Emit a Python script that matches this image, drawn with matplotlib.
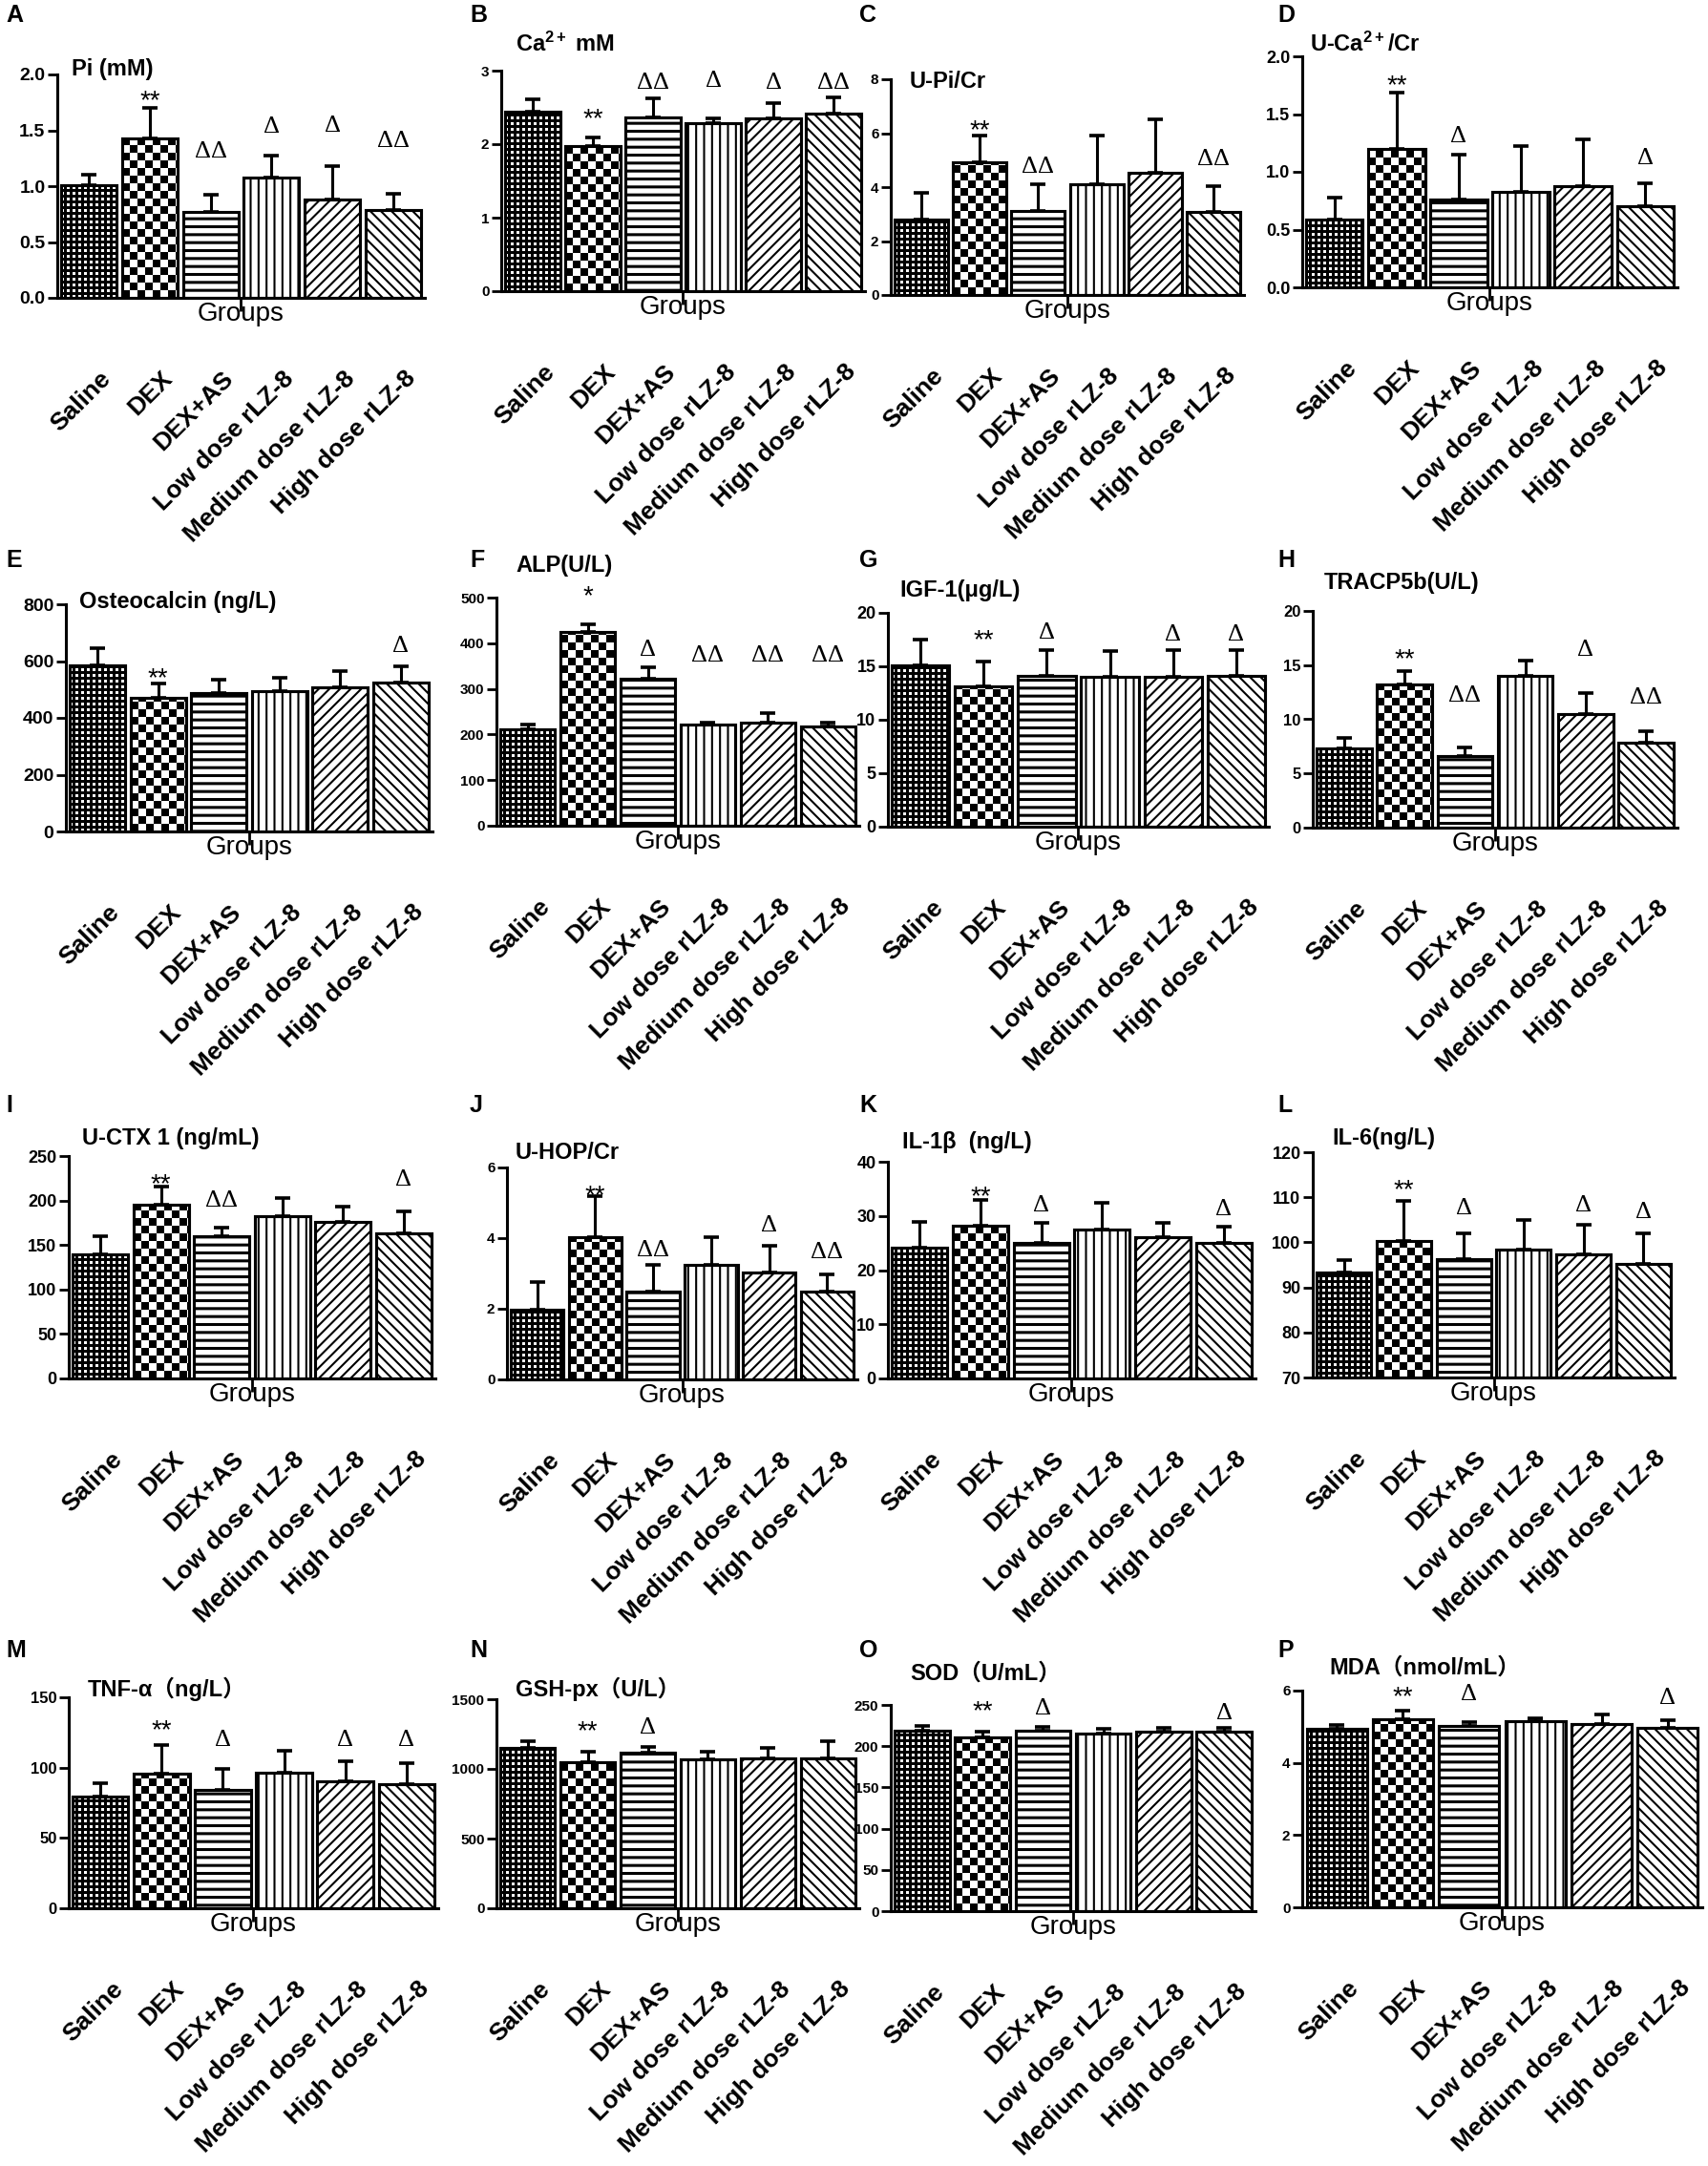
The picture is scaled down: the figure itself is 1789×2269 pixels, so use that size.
import numpy as np
import matplotlib
matplotlib.use("Agg")
import matplotlib.pyplot as plt

# ---------- Config ----------
W, H = 1790, 2269
DPI = 100
plt.rcParams["font.family"] = ["Liberation Sans", "DejaVu Sans"]
plt.rcParams["mathtext.fontset"] = "custom"
plt.rcParams["mathtext.rm"] = "Liberation Sans:bold"
plt.rcParams["mathtext.bf"] = "Liberation Sans:bold"
plt.rcParams["mathtext.default"] = "rm"
plt.rcParams["hatch.linewidth"] = 1.5

# ---------- Data ----------
groups = ["Saline", "DEX", "DEX+AS", "Low dose rLZ-8", "Medium dose rLZ-8", "High dose rLZ-8"]

pi_mean = [1.01, 1.43, 0.77, 1.075, 0.877, 0.785]
pi_sem = [0.09, 0.27, 0.155, 0.20, 0.30, 0.15]
pi_sig = ["", "**", "ΔΔ", "Δ", "Δ", "ΔΔ"]
pi_sig_at = [None, 1.83, 1.32, 1.54, 1.55, 1.415]

ca_mean = [2.44, 1.97, 2.36, 2.28, 2.35, 2.41]
ca_sem = [0.17, 0.12, 0.26, 0.07, 0.21, 0.22]
ca_sig = ["", "**", "ΔΔ", "Δ", "Δ", "ΔΔ"]
ca_sig_at = [None, 2.44, 2.85, 2.88, 2.85, 2.85]

upi_mean = [2.81, 4.92, 3.10, 4.11, 4.53, 3.08]
upi_sem = [0.96, 1.0, 1.0, 1.8, 1.98, 0.97]
upi_sig = ["", "**", "ΔΔ", "", "", "ΔΔ"]
upi_sig_at = [None, 6.36, 4.80, None, None, 5.09]

uca_mean = [0.59, 1.20, 0.76, 0.826, 0.88, 0.705]
uca_sem = [0.19, 0.49, 0.39, 0.40, 0.40, 0.195]
uca_sig = ["", "**", "Δ", "", "", "Δ"]
uca_sig_at = [None, 1.81, 1.32, None, None, 1.13]

ocn_mean = [585, 471, 487, 493, 507, 526]
ocn_sem = [59, 50, 49, 47, 58, 57]
ocn_sig = ["", "**", "", "", "", "Δ"]
ocn_sig_at = [None, 565, None, None, None, 658]

alp_mean = [212, 425, 323, 221, 225, 217]
alp_sem = [9, 17, 24, 5, 21, 8]
alp_sig = ["", "*", "Δ", "ΔΔ", "ΔΔ", "ΔΔ"]
alp_sig_at = [None, 519, 388, 376, 376, 376]

igf_mean = [15.06, 13.15, 14.1, 14.0, 14.0, 14.08]
igf_sem = [2.45, 2.33, 2.4, 2.4, 2.5, 2.4]
igf_sig = ["", "**", "Δ", "", "Δ", "Δ"]
igf_sig_at = [None, 18.1, 18.25, None, 18.1, 18.1]

tracp_mean = [7.34, 13.23, 6.61, 14.0, 10.46, 7.87]
tracp_sem = [0.91, 1.2, 0.79, 1.43, 1.92, 1.0]
tracp_sig = ["", "**", "ΔΔ", "", "Δ", "ΔΔ"]
tracp_sig_at = [None, 16.2, 12.3, None, 16.5, 12.1]

ctx_mean = [139, 195, 160, 182, 176, 163]
ctx_sem = [21, 21, 10, 21, 17, 25]
ctx_sig = ["", "**", "ΔΔ", "", "", "Δ"]
ctx_sig_at = [None, 227, 201, None, None, 225]

hop_mean = [1.96, 4.02, 2.48, 3.25, 3.02, 2.49]
hop_sem = [0.79, 1.17, 0.75, 0.78, 0.77, 0.49]
hop_sig = ["", "**", "ΔΔ", "", "Δ", "ΔΔ"]
hop_sig_at = [None, 5.42, 3.69, None, 4.38, 3.63]

il1b_mean = [24.1, 28.2, 25.1, 27.5, 26.0, 25.1]
il1b_sem = [4.8, 4.7, 3.7, 5.0, 2.8, 2.9]
il1b_sig = ["", "**", "Δ", "", "", "Δ"]
il1b_sig_at = [None, 35.0, 32.1, None, None, 31.5]

il6_mean = [93.2, 100.3, 96.3, 98.4, 97.3, 95.3]
il6_sem = [2.9, 8.9, 5.7, 6.6, 6.7, 6.7]
il6_sig = ["", "**", "Δ", "", "Δ", "Δ"]
il6_sig_at = [None, 113.2, 107.7, None, 108.4, 106.9]

tnf_mean = [79.2, 95.9, 84.3, 96.6, 90.2, 88.0]
tnf_sem = [10, 20, 14.8, 15.3, 14.3, 15.3]
tnf_sig = ["", "**", "Δ", "", "Δ", "Δ"]
tnf_sig_at = [None, 131.5, 120.5, None, 120.5, 120.5]

gsh_mean = [1148, 1046, 1116, 1066, 1074, 1074]
gsh_sem = [50, 77, 44, 57, 74, 124]
gsh_sig = ["", "**", "Δ", "", "", ""]
gsh_sig_at = [None, 1322, 1307, None, None, None]

sod_mean = [218.5, 210.1, 218.5, 215.1, 217.2, 217.2]
sod_sem = [6.3, 8.0, 5.0, 5.5, 5.1, 5.5]
sod_sig = ["", "**", "Δ", "", "", "Δ"]
sod_sig_at = [None, 250.8, 247.5, None, None, 241.6]

mda_mean = [4.93, 5.20, 5.01, 5.15, 5.08, 4.96]
mda_sem = [0.11, 0.24, 0.12, 0.09, 0.27, 0.22]
mda_sig = ["", "**", "Δ", "", "", "Δ"]
mda_sig_at = [None, 6.02, 5.92, None, None, 5.83]

# y ticks per panel
ticks_pi = [0.0, 0.5, 1.0, 1.5, 2.0]
ticks_ca = [0, 1, 2, 3]
ticks_upi = [0, 2, 4, 6, 8]
ticks_uca = [0.0, 0.5, 1.0, 1.5, 2.0]
ticks_ocn = [0, 200, 400, 600, 800]
ticks_alp = [0, 100, 200, 300, 400, 500]
ticks_igf = [0, 5, 10, 15, 20]
ticks_tracp = [0, 5, 10, 15, 20]
ticks_ctx = [0, 50, 100, 150, 200, 250]
ticks_hop = [0, 2, 4, 6]
ticks_il1b = [0, 10, 20, 30, 40]
ticks_il6 = [70, 80, 90, 100, 110, 120]
ticks_tnf = [0, 50, 100, 150]
ticks_gsh = [0, 500, 1000, 1500]
ticks_sod = [0, 50, 100, 150, 200, 250]
ticks_mda = [0, 2, 4, 6]

# (letter, title, mean, sem, sig, sig_at, ticks, tick fmt, tick size,
#  axes box in px (left, top, right, bottom), title anchor px (x, y))
PANELS = [
    ("A", "Pi (mM)", pi_mean, pi_sem, pi_sig, pi_sig_at, ticks_pi, "{:.1f}", 14, (60, 78, 445, 312), (75, 73)),
    ("B", "Ca$^{2+}$ mM", ca_mean, ca_sem, ca_sig, ca_sig_at, ticks_ca, "{:d}", 11, (525, 74, 906, 305), (540, 46)),
    ("C", "U-Pi/Cr", upi_mean, upi_sem, upi_sig, upi_sig_at, ticks_upi, "{:d}", 11, (933, 83, 1303, 309), (953, 86)),
    ("D", "U-Ca$^{2+}$/Cr", uca_mean, uca_sem, uca_sig, uca_sig_at, ticks_uca, "{:.1f}", 13, (1364, 59, 1757, 301), (1372, 46)),
    ("E", "Osteocalcin (ng/L)", ocn_mean, ocn_sem, ocn_sig, ocn_sig_at, ticks_ocn, "{:d}", 14, (69, 633, 453, 871), (83, 630)),
    ("F", "ALP(U/L)", alp_mean, alp_sem, alp_sig, alp_sig_at, ticks_alp, "{:d}", 11, (520, 626, 900, 865), (540, 592)),
    ("G", "IGF-1(μg/L)", igf_mean, igf_sem, igf_sig, igf_sig_at, ticks_igf, "{:d}", 13, (930, 642, 1329, 866), (942, 619)),
    ("H", "TRACP5b(U/L)", tracp_mean, tracp_sem, tracp_sig, tracp_sig_at, ticks_tracp, "{:d}", 12, (1375, 640, 1757, 867), (1387, 610)),
    ("I", "U-CTX 1 (ng/mL)", ctx_mean, ctx_sem, ctx_sig, ctx_sig_at, ticks_ctx, "{:d}", 13, (72, 1211, 456, 1444), (86, 1192)),
    ("J", "U-HOP/Cr", hop_mean, hop_sem, hop_sig, hop_sig_at, ticks_hop, "{:d}", 11, (531, 1223, 898, 1445), (540, 1208)),
    ("K", "IL-1β  (ng/L)", il1b_mean, il1b_sem, il1b_sig, il1b_sig_at, ticks_il1b, "{:d}", 13, (930, 1217, 1315, 1444), (945, 1197)),
    ("L", "IL-6(ng/L)", il6_mean, il6_sem, il6_sig, il6_sig_at, ticks_il6, "{:d}", 13, (1375, 1207, 1754, 1443), (1395, 1192)),
    ("M", "TNF-α（ng/L）", tnf_mean, tnf_sem, tnf_sig, tnf_sig_at, ticks_tnf, "{:d}", 12, (72, 1778, 459, 1999), (92, 1769)),
    ("N", "GSH-px（U/L）", gsh_mean, gsh_sem, gsh_sig, gsh_sig_at, ticks_gsh, "{:d}", 11, (520, 1780, 900, 1999), (540, 1769)),
    ("O", "SOD（U/mL）", sod_mean, sod_sem, sod_sig, sod_sig_at, ticks_sod, "{:d}", 11, (933, 1786, 1315, 2002), (953, 1753)),
    ("P", "MDA（nmol/mL）", mda_mean, mda_sem, mda_sig, mda_sig_at, ticks_mda, "{:d}", 11, (1364, 1771, 1783, 1998), (1392, 1747)),
]

LETTER_X = [6, 492, 900, 1338]
LETTER_Y = [16, 587, 1158, 1729]

# patterns for the six groups: image fills for the first two, hatches for the rest
FILLS = ["dots", "checker", "--", "||", "///", "\\\\\\"]
EDGE_LW = 2.2
BAR_W = 0.91


def fx(x):
    return x / W


def fy(y):
    return 1 - y / H


def fill_pattern(ax, patch, kind):
    bb = patch.get_window_extent()
    w = max(int(np.ceil(bb.width)), 1)
    h = max(int(np.ceil(bb.height)), 1)
    yy, xx = np.mgrid[0:h, 0:w]
    if kind == "checker":
        img = ((xx // 8 + yy // 8) % 2).astype(float)
    else:
        img = (((xx % 6) < 3) & ((yy % 6) < 3)).astype(float)
    x0, y0 = patch.get_x(), patch.get_y()
    im = ax.imshow(img, extent=(x0, x0 + patch.get_width(), y0, y0 + patch.get_height()),
                   origin="lower", cmap="gray", vmin=0, vmax=1, interpolation="nearest",
                   aspect="auto", zorder=1.5)
    im.set_clip_path(patch)


def draw_panel(fig, idx, panel):
    letter, title, mean, sem, sig, sig_at, ticks, fmt, tsize, box, tpos = panel
    left, top, right, bottom = box
    ax = fig.add_axes([fx(left), fy(bottom), fx(right - left), (bottom - top) / H])

    x = np.arange(len(groups))
    base = ticks[0]
    ylim = (ticks[0], ticks[-1])
    ax.set_xlim(-0.52, len(groups) - 0.48)
    ax.set_ylim(*ylim)

    heights = np.array(mean, dtype=float) - base
    bars = ax.bar(x, heights, width=BAR_W, bottom=base, color="white",
                  edgecolor="black", linewidth=EDGE_LW, zorder=1)
    for p, kind in zip(bars, FILLS):
        if kind in ("dots", "checker"):
            fill_pattern(ax, p, kind)
        else:
            p.set_hatch(kind)
            if kind == "--" and hasattr(p, "set_hatch_linewidth"):
                p.set_hatch_linewidth(2.2)
    # outlines on top of the image fills
    ax.bar(x, heights, width=BAR_W, bottom=base, fill=False,
           edgecolor="black", linewidth=EDGE_LW, zorder=2)
    ax.set_xlim(-0.52, len(groups) - 0.48)
    ax.set_ylim(*ylim)

    ax.errorbar(x, mean, yerr=[np.zeros(len(sem)), sem], fmt="none", ecolor="black",
                elinewidth=2.2, capsize=5.5, capthick=2.6, zorder=3)

    # significance marks
    for i, (s, y) in enumerate(zip(sig, sig_at)):
        if not s:
            continue
        if "*" in s:
            ax.annotate(s, xy=(i, y), xytext=(0, -6), textcoords="offset points",
                        ha="center", va="center", fontsize=20, annotation_clip=False)
        else:
            ax.annotate(s, xy=(i, y), xytext=(0, -1), textcoords="offset points",
                        ha="center", va="center", fontsize=19,
                        family=["Liberation Serif", "DejaVu Serif"], annotation_clip=False)

    # axes styling
    for side in ("top", "right"):
        ax.spines[side].set_visible(False)
    for side in ("left", "bottom"):
        ax.spines[side].set_linewidth(EDGE_LW)
    ax.spines["left"].set_bounds(*ylim)

    labels = [fmt.format(int(t)) if fmt == "{:d}" else fmt.format(t) for t in ticks]
    ax.set_yticks(ticks, labels=labels, fontsize=tsize, fontweight="bold")
    ax.tick_params(axis="y", direction="out", length=7, width=2, pad=2)
    ax.set_xticks([(len(groups) - 1) / 2], labels=[""])
    ax.tick_params(axis="x", direction="out", length=10, width=2)

    ax.annotate("Groups", xy=(0.5, 0), xycoords="axes fraction", xytext=(0, -3),
                textcoords="offset points", ha="center", va="top", fontsize=20)

    for i, g in enumerate(groups):
        ax.annotate(g, xy=(i, 0), xycoords=("data", "axes fraction"), xytext=(8, -52),
                    textcoords="offset points", ha="right", va="top", rotation=45,
                    rotation_mode="anchor", fontsize=19, fontweight="bold",
                    annotation_clip=False)

    # panel title and letter
    fig.text(fx(tpos[0]), fy(tpos[1]), title, ha="left", va="center", fontsize=17,
             fontweight="bold", family=["Liberation Sans", "Noto Sans CJK SC", "DejaVu Sans"])
    fig.text(fx(LETTER_X[idx % 4]), fy(LETTER_Y[idx // 4]), letter, ha="left", va="center",
             fontsize=18, fontweight="bold")
    return ax


def main():
    fig = plt.figure(figsize=(W / DPI, H / DPI), dpi=DPI)
    fig.patch.set_facecolor("white")
    for idx, panel in enumerate(PANELS):
        draw_panel(fig, idx, panel)
    fig.savefig("out.png", dpi=DPI, facecolor="white")
    plt.close(fig)


if __name__ == "__main__":
    main()
